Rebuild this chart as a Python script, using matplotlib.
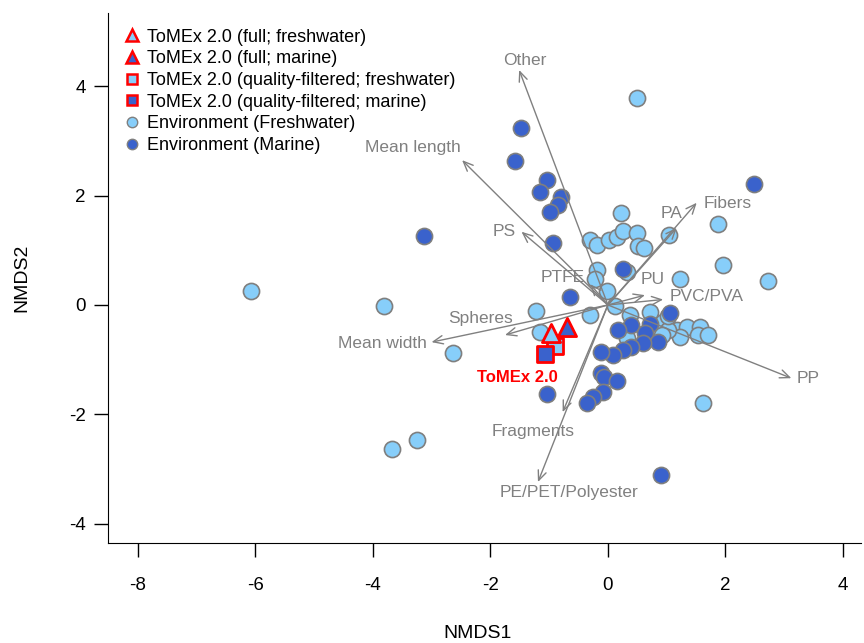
import matplotlib
matplotlib.use("Agg")
import matplotlib.pyplot as plt
from matplotlib.lines import Line2D

plt.rcParams['font.family'] = ['Liberation Sans', 'DejaVu Sans']
plt.rcParams['axes.unicode_minus'] = False

# NMDS site scores
fw_x = [0.49, 0.22, -0.31, -0.19, 0.02, 0.15, 0.26, 0.49, 0.52, 0.61,
        1.04, 1.88, 1.95, 2.73, 1.22, -0.19, -0.22, 0.32, -0.02, 0.12,
        -1.22, -0.31, -1.16, -2.64, -6.07, -3.80, -3.67, -3.25, 1.62, 0.37,
        0.71, 0.94, 1.17, 1.34, 1.56, 1.53, 1.71, 1.22, 1.02, 0.92,
        0.32, 1.03]
fw_y = [3.78, 1.68, 1.18, 1.10, 1.18, 1.25, 1.36, 1.31, 1.07, 1.04,
        1.28, 1.49, 0.74, 0.44, 0.47, 0.64, 0.47, 0.61, 0.26, -0.02,
        -0.11, -0.18, -0.49, -0.88, 0.26, -0.02, -2.63, -2.47, -1.80, -0.18,
        -0.13, -0.31, -0.46, -0.40, -0.40, -0.55, -0.55, -0.58, -0.46, -0.55,
        -0.61, -0.21]

mar_x = [-1.47, -1.58, -1.03, -1.16, -0.80, -0.85, -0.99, -0.93, -3.13, 2.48,
         -0.65, 0.26, -1.03, 0.90, 1.05, 0.40, 0.18, 0.71, 0.63, 0.85,
         0.60, 0.40, 0.26, 0.09, -0.11, -0.11, -0.07, 0.15, -0.09, -0.25,
         -0.36]
mar_y = [3.24, 2.64, 2.29, 2.07, 1.97, 1.83, 1.70, 1.13, 1.26, 2.21,
         0.14, 0.65, -1.63, -3.11, -0.14, -0.37, -0.46, -0.34, -0.52, -0.67,
         -0.70, -0.76, -0.82, -0.92, -0.86, -1.25, -1.31, -1.40, -1.60, -1.68,
         -1.79]

# ToMEx 2.0 centroids
tri_fw = (-0.96, -0.52)
tri_mar = (-0.69, -0.40)
sq_fw = (-0.90, -0.75)
sq_mar = (-1.07, -0.90)

# fitted vectors (envfit)
vec_names = ['Other', 'Mean length', 'PS', 'PA', 'Fibers', 'PTFE', 'PU',
             'PVC/PVA', 'Spheres', 'Mean width', 'PP', 'Fragments',
             'PE/PET/Polyester']
vec_x = [-1.51, -2.48, -1.47, 1.17, 1.51, -0.30, 0.63, 0.94, -1.75, -3.00,
         3.12, -0.77, -1.19]
vec_y = [4.30, 2.65, 1.34, 1.41, 1.87, 0.38, 0.18, 0.10, -0.55, -0.68,
         -1.34, -1.96, -3.24]
# where each vector label sits
lab_pos = {
    'Other': (-1.41, 4.47),
    'Mean length': (-3.32, 2.89),
    'PS': (-1.77, 1.34),
    'PA': (1.09, 1.67),
    'Fibers': (2.04, 1.85),
    'PTFE': (-0.77, 0.51),
    'PU': (0.77, 0.46),
    'PVC/PVA': (1.68, 0.16),
    'Spheres': (-2.16, -0.24),
    'Mean width': (-3.83, -0.70),
    'PP': (3.40, -1.35),
    'Fragments': (-1.28, -2.32),
    'PE/PET/Polyester': (-0.67, -3.44),
}

light = '#87CEFA'
dark = '#3A62CC'
edge = '#7F7F7F'
grey = '#808080'

fig = plt.figure(figsize=(8.64, 6.43), dpi=100)
ax = fig.add_axes([0.1252, 0.156, 0.871, 0.8244])

ax.scatter(fw_x, fw_y, s=135, c=light, edgecolors=edge, linewidths=1.2, zorder=2)
ax.scatter(mar_x, mar_y, s=135, c=dark, edgecolors=edge, linewidths=1.2, zorder=2)

ax.scatter(*sq_fw, marker='s', s=120, c=light, edgecolors='red', linewidths=2, zorder=4)
ax.scatter(*sq_mar, marker='s', s=120, c=dark, edgecolors='red', linewidths=2, zorder=4)
ax.scatter(*tri_fw, marker='^', s=170, c=light, edgecolors='red', linewidths=2, zorder=4)
ax.scatter(*tri_mar, marker='^', s=170, c=dark, edgecolors='red', linewidths=2, zorder=4)
ax.text(-1.54, -1.33, 'ToMEx 2.0', color='red', fontsize=12, fontweight='bold',
        ha='center', va='center', zorder=5)

for name, vx, vy in zip(vec_names, vec_x, vec_y):
    ax.annotate('', xy=(vx, vy), xytext=(0, 0),
                arrowprops=dict(arrowstyle='->,head_length=0.7,head_width=0.3',
                                color=grey, lw=1.0, shrinkA=0, shrinkB=0),
                zorder=3)
    lx, ly = lab_pos[name]
    ax.text(lx, ly, name, color=grey, fontsize=12.5, ha='center', va='center', zorder=5)

ax.set_xlim(-8.5, 4.3)
ax.set_ylim(-4.35, 5.35)
ax.set_xticks([-8, -6, -4, -2, 0, 2, 4])
ax.set_yticks([-4, -2, 0, 2, 4])
ax.spines['top'].set_visible(False)
ax.spines['right'].set_visible(False)
ax.tick_params(axis='both', direction='out', length=10, width=1, labelsize=13.5)
ax.tick_params(axis='x', pad=15)
ax.tick_params(axis='y', pad=6)
fig.text(0.553, 1 - 633 / 643, 'NMDS1', fontsize=14, ha='center', va='center')
fig.text(22 / 864, 1 - 278 / 643, 'NMDS2', fontsize=14, ha='center', va='center',
         rotation=90)

handles = [
    Line2D([], [], ls='none', marker='^', ms=8.5, mfc=light, mec='red', mew=1.8),
    Line2D([], [], ls='none', marker='^', ms=8.5, mfc=dark, mec='red', mew=1.8),
    Line2D([], [], ls='none', marker='s', ms=7, mfc=light, mec='red', mew=1.8),
    Line2D([], [], ls='none', marker='s', ms=7, mfc=dark, mec='red', mew=1.8),
    Line2D([], [], ls='none', marker='o', ms=7.5, mfc=light, mec=edge, mew=1),
    Line2D([], [], ls='none', marker='o', ms=7.5, mfc=dark, mec=edge, mew=1),
]
labels = ['ToMEx 2.0 (full; freshwater)', 'ToMEx 2.0 (full; marine)',
          'ToMEx 2.0 (quality-filtered; freshwater)',
          'ToMEx 2.0 (quality-filtered; marine)',
          'Environment (Freshwater)', 'Environment (Marine)']
ax.legend(handles, labels, loc='upper left', bbox_to_anchor=(112 / 864, 1 - 16 / 643),
          bbox_transform=fig.transFigure, frameon=False, fontsize=13,
          handlelength=0.8, handletextpad=0.45, labelspacing=0.26, borderpad=0.2)

fig.savefig('out.png', dpi=100)
